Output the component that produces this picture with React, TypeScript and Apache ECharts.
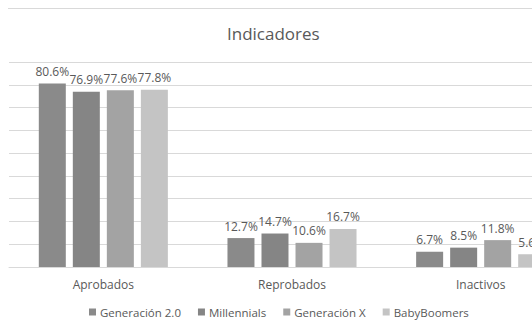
import React, { useEffect, useRef } from "react";
import * as echarts from "echarts";

const categories = ["Aprobados", "Reprobados", "Inactivos"];
const seriesNames = ["Generación 2.0", "Millennials", "Generación X", "BabyBoomers"];
const gen20 = [80.6, 12.7, 6.7];
const millennials = [76.9, 14.7, 8.5];
const genX = [77.6, 10.6, 11.8];
const boomers = [77.8, 16.7, 5.6];
const colors = ["#8a8a8a", "#858585", "#a3a3a3", "#c4c4c4"];

export default function App() {
  const ref = useRef<HTMLDivElement>(null);
  useEffect(() => {
    if (!ref.current) return;
    const chart = echarts.init(ref.current, null, { renderer: "svg" });
    const font = "'Open Sans', 'Noto Sans', sans-serif";
    const dataSets = [gen20, millennials, genX, boomers];
    chart.setOption({
      animation: false,
      backgroundColor: "#ffffff",
      textStyle: { fontFamily: font },
      title: {
        text: "Indicadores",
        left: 222,
        top: 20,
        textStyle: { fontFamily: font, fontSize: 17, fontWeight: "normal", color: "#595959" },
      },
      legend: {
        data: seriesNames,
        left: 89,
        top: 306,
        padding: 0,
        itemWidth: 7,
        itemHeight: 7,
        itemGap: 17,
        icon: "rect",
        textStyle: { fontFamily: font, fontSize: 11.5, color: "#595959", padding: [0, 0, 0, -1] },
      },
      grid: { left: 9, top: 62, width: 566, height: 205, containLabel: false },
      xAxis: {
        type: "category",
        data: categories,
        axisLine: { show: true, lineStyle: { color: "#d9d9d9" } },
        axisTick: { show: false },
        axisLabel: { fontFamily: font, fontSize: 12, color: "#595959", margin: 11 },
      },
      yAxis: {
        type: "value",
        min: 0,
        max: 90,
        interval: 10,
        axisLabel: { show: false },
        axisLine: { show: false },
        axisTick: { show: false },
        splitLine: { lineStyle: { color: "#d9d9d9" } },
      },
      graphic: [
        {
          type: "line",
          shape: { x1: 8, y1: 8.5, x2: 600, y2: 8.5 },
          style: { stroke: "#d9d9d9", lineWidth: 1 },
        },
      ],
      series: seriesNames.map((name, i) => ({
        name,
        type: "bar",
        data: dataSets[i],
        barWidth: 27,
        barGap: "26%",
        itemStyle: { color: colors[i] },
        label: {
          show: true,
          position: "top",
          distance: 6,
          fontFamily: font,
          fontSize: 12,
          color: "#595959",
          formatter: (p: any) => p.value.toFixed(1) + "%",
        },
      })),
    });
    return () => chart.dispose();
  }, []);
  return (
    <div style={{ position: "fixed", left: 0, top: 0, width: 532, height: 328, overflow: "hidden", background: "#fff" }}>
      <div ref={ref} style={{ width: 600, height: 328 }} />
    </div>
  );
}
